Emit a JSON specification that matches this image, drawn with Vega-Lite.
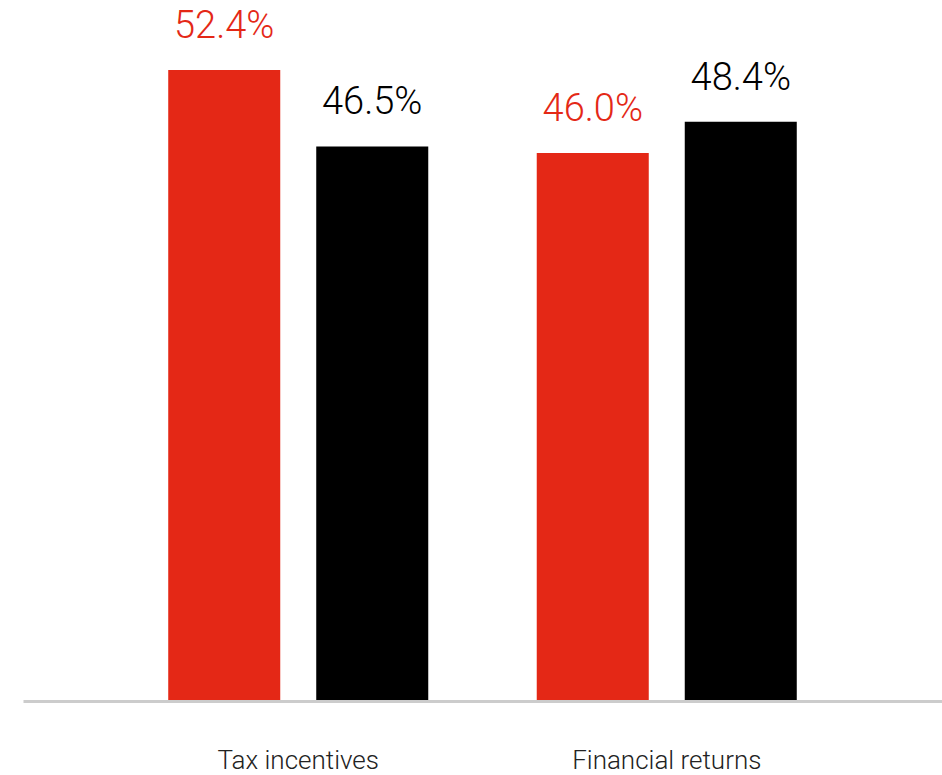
{
  "$schema": "https://vega.github.io/schema/vega-lite/v6.json",
  "width": 919,
  "height": 700,
  "autosize": {"type": "none"},
  "padding": {"left": 23, "top": 0, "right": 0, "bottom": 75},
  "background": "white",
  "config": {"view": {"stroke": null}},
  "data": {
    "values": [
      {"category": "Tax incentives", "series": "Group A", "value": 0.524},
      {"category": "Tax incentives", "series": "Group B", "value": 0.465},
      {"category": "Financial returns", "series": "Group A", "value": 0.460},
      {"category": "Financial returns", "series": "Group B", "value": 0.484}
    ]
  },
  "encoding": {
    "x": {
      "field": "category",
      "type": "nominal",
      "sort": ["Tax incentives", "Financial returns"],
      "scale": {"paddingInner": 0.2944, "paddingOuter": 0.3941},
      "axis": {
        "title": null,
        "labelAngle": 0,
        "ticks": false,
        "tickSize": 0,
        "grid": false,
        "domainColor": "#cccccc",
        "domainWidth": 3,
        "offset": 1,
        "labelPadding": 67,
        "labelBaseline": "alphabetic",
        "labelFont": "Roboto",
        "labelFontWeight": 300,
        "labelFontSize": 26,
        "labelColor": "#222222",
        "labelLimit": 400
      }
    },
    "xOffset": {
      "field": "series",
      "type": "nominal",
      "sort": ["Group A", "Group B"],
      "scale": {"paddingInner": 0.2432, "paddingOuter": 0}
    },
    "y": {
      "field": "value",
      "type": "quantitative",
      "scale": {"zero": false, "domain": [0.038, 0.578], "clamp": true},
      "axis": null
    },
    "color": {
      "field": "series",
      "type": "nominal",
      "scale": {"domain": ["Group A", "Group B"], "range": ["#E42816", "#000000"]},
      "legend": null
    }
  },
  "layer": [
    {"mark": {"type": "bar"}},
    {
      "mark": {"type": "text", "dy": -32, "baseline": "alphabetic", "font": "Roboto", "fontWeight": 300, "fontSize": 38},
      "encoding": {"text": {"field": "value", "type": "quantitative", "format": ".1%"}}
    }
  ]
}
